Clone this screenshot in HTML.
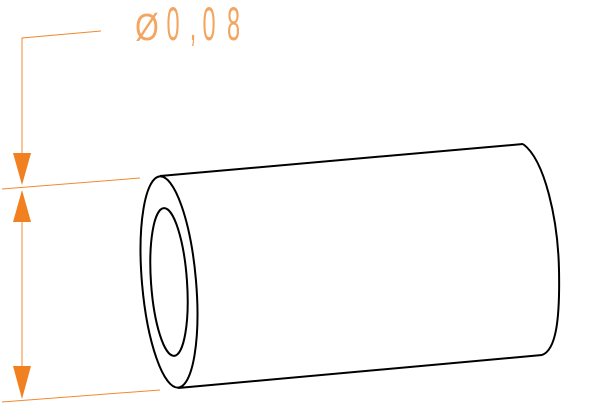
<!DOCTYPE html>
<html><head><style>html,body{margin:0;padding:0;background:#fff;}svg{display:block;}</style></head>
<body>
<svg width="600" height="405" viewBox="0 0 600 405" xmlns="http://www.w3.org/2000/svg">
<g stroke="#f08a30" stroke-width="1" fill="none">
<polyline points="101,31 22,38 22,160"/>
<line x1="2" y1="189" x2="140" y2="178"/>
<line x1="2" y1="402" x2="160" y2="390"/>
<line x1="22" y1="215" x2="22" y2="372"/>
</g>
<g fill="#f08020">
<polygon points="13,153 31,153 22,185"/>
<polygon points="13,222 31,222 22,190"/>
<polygon points="13,366 31,366 22,399"/>
</g>
<g fill="#f4a560" font-family="Liberation Sans, sans-serif" font-size="47" text-anchor="middle" transform="scale(0.5,1)">
<text x="294" y="40" font-size="38" transform="scale(1.6,1)" transform-origin="294 40">Ø</text>
<text x="346" y="40">0</text>
<text x="386" y="40">,</text>
<text x="418" y="40">0</text>
<text x="467" y="40">8</text>
</g>
<g stroke="#000" stroke-width="2" fill="none">
<line x1="160" y1="176" x2="523" y2="144"/>
<line x1="178" y1="388" x2="542" y2="355"/>
<path d="M523,144 C545,160 558,220 559,270 C560,320 556,350 542,355"/>
<ellipse cx="169" cy="282" rx="27" ry="106" transform="rotate(-5 169 282)"/>
<ellipse cx="169" cy="282" rx="18" ry="74" transform="rotate(-4 169 282)"/>
</g>
</svg>
</body></html>
